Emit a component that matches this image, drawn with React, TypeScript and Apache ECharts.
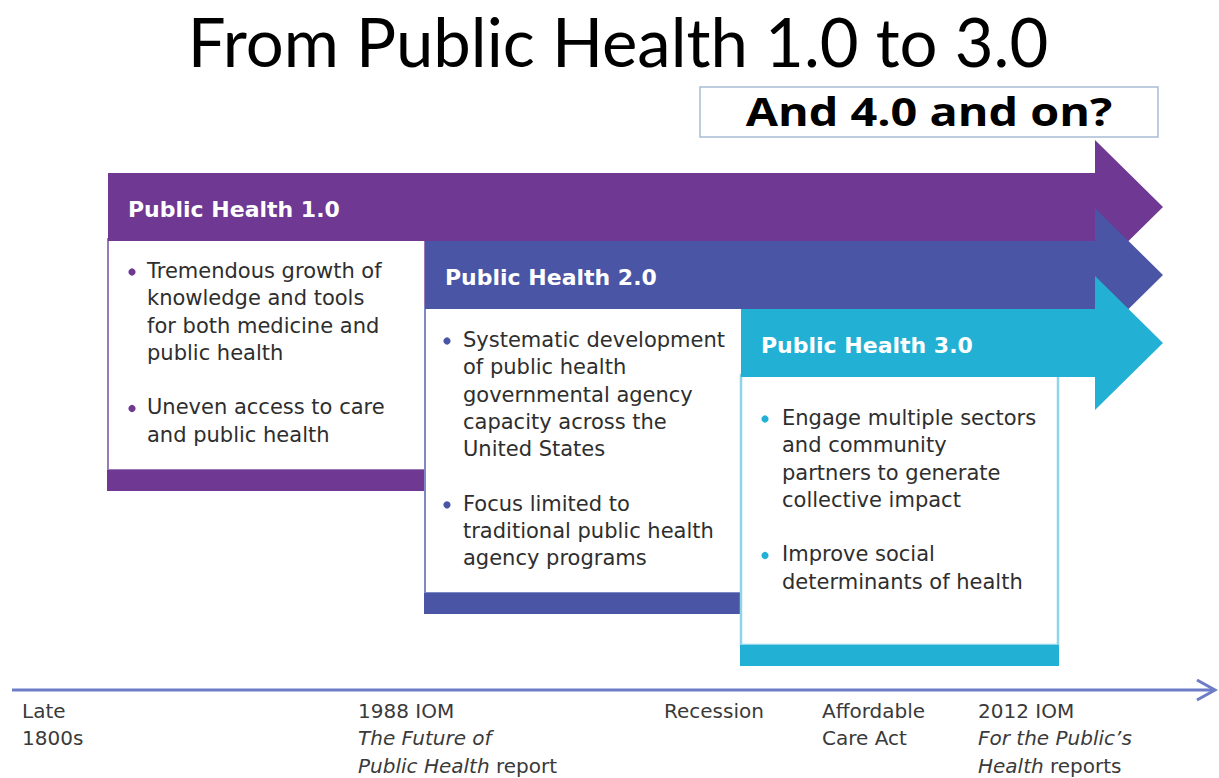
import React, { useEffect, useRef } from "react";
import * as echarts from "echarts";

// ---- data ----
const title = "From Public Health 1.0 to 3.0";
const subtitle = "And 4.0 and on?";
const phases = ["Public Health 1.0", "Public Health 2.0", "Public Health 3.0"];
const phaseColors = ["#6E3893", "#4A55A5", "#22B1D5"];
const phaseBorderColors = ["#9A7AB6", "#7F89C6", "#8ED4EA"];
const bullets1 = [
  ["Tremendous growth of", "knowledge and tools", "for both medicine and", "public health"],
  ["Uneven access to care", "and public health"],
];
const bullets2 = [
  ["Systematic development", "of public health", "governmental agency", "capacity across the", "United States"],
  ["Focus limited to", "traditional public health", "agency programs"],
];
const bullets3 = [
  ["Engage multiple sectors", "and community", "partners to generate", "collective impact"],
  ["Improve social", "determinants of health"],
];
const phaseBullets = [bullets1, bullets2, bullets3];
// timeline milestones: rich-text lines ({i|...} = italic)
const milestoneLabels = [
  ["Late", "1800s"],
  ["1988 IOM", "{i|The Future of}", "{i|Public Health} report"],
  ["Recession"],
  ["Affordable", "Care Act"],
  ["2012 IOM", "{i|For the Public\u2019s}", "{i|Health} reports"],
];

// ---- layout ----
const W = 1219;
const H = 778;
const phaseX = [108, 425, 741];
const boxW = 317;
const bodyTop0 = 173;
const bodyStep = 68;
const bodyH = 68;
const bodyRight = 1095;
const headTip = 1163;
const headHalf = 67;
const boxBottoms = [470, 593, 645];
const bandH = 21;
const firstLineOffset = [30, 31, 41];
const textIndent = [39, 38, 41];
const dotIndent = [24, 22, 24];
const lineH = 27.3;
const milestoneX = [22, 358, 664, 822, 978];
const timelineY = 690;

function buildGraphics() {
  const els: any[] = [];
  // title
  els.push({
    type: "text",
    x: 618,
    y: 41,
    style: {
      text: title,
      font: '400 67px "Lato", "Open Sans", sans-serif',
      fill: "#000",
      align: "center",
      verticalAlign: "middle",
    },
  });
  // subtitle box
  els.push({
    type: "rect",
    shape: { x: 700, y: 87, width: 458, height: 50 },
    style: { fill: "#fff", stroke: "#A9BCD6", lineWidth: 1.5 },
    z: 1,
  });
  els.push({
    type: "text",
    x: 929,
    y: 111,
    z: 2,
    scaleX: 1.2,
    style: {
      text: subtitle,
      font: '700 39px "Open Sans", "Lato", sans-serif',
      fill: "#000",
      align: "center",
      verticalAlign: "middle",
    },
  });

  phases.forEach((name, i) => {
    const x0 = phaseX[i];
    const top = bodyTop0 + i * bodyStep;
    const bottom = top + bodyH;
    const cy = top + bodyH / 2;
    const z = 10 + i * 10;
    // box (white with border) + bottom band
    els.push({
      type: "rect",
      z,
      shape: { x: x0, y: bottom - 2, width: boxW, height: boxBottoms[i] - bottom + 2 },
      style: { fill: "#fff", stroke: phaseBorderColors[i], lineWidth: i === 2 ? 2.5 : 2 },
    });
    els.push({
      type: "rect",
      z,
      shape: { x: x0 - 1, y: boxBottoms[i], width: boxW + 2, height: bandH },
      style: { fill: phaseColors[i] },
    });
    // arrow
    els.push({
      type: "polygon",
      z: z + 1,
      shape: {
        points: [
          [x0, top],
          [bodyRight, top],
          [bodyRight, cy - headHalf],
          [headTip, cy],
          [bodyRight, cy + headHalf],
          [bodyRight, bottom],
          [x0, bottom],
        ],
      },
      style: { fill: phaseColors[i] },
    });
    els.push({
      type: "text",
      z: z + 2,
      x: x0 + 20,
      y: cy + 2,
      style: {
        text: name,
        font: '700 22px "DejaVu Sans", Verdana, sans-serif',
        fill: "#fff",
        verticalAlign: "middle",
      },
    });
    // bullets
    let lineIdx = 0;
    phaseBullets[i].forEach((lines) => {
      const yc = bottom + firstLineOffset[i] + lineIdx * lineH;
      els.push({
        type: "circle",
        z: z + 2,
        shape: { cx: x0 + dotIndent[i], cy: yc + 1, r: 3.6 },
        style: { fill: phaseColors[i] },
      });
      els.push({
        type: "text",
        z: z + 2,
        x: x0 + textIndent[i],
        y: yc - lineH / 2,
        style: {
          text: lines.join("\n"),
          font: '400 21px "DejaVu Sans", Verdana, sans-serif',
          lineHeight: lineH,
          fill: "#2E2E2E",
          verticalAlign: "top",
        },
      });
      lineIdx += lines.length + 1;
    });
  });

  // timeline
  els.push({
    type: "line",
    z: 50,
    shape: { x1: 12, y1: timelineY, x2: 1212, y2: timelineY },
    style: { stroke: "#6C7CC6", lineWidth: 3 },
  });
  els.push({
    type: "polyline",
    z: 50,
    shape: { points: [[1197, timelineY - 10], [1215, timelineY], [1197, timelineY + 10]] },
    style: { stroke: "#6C7CC6", lineWidth: 3, fill: "none" },
  });
  milestoneLabels.forEach((lines, k) => {
    els.push({
      type: "text",
      z: 50,
      x: milestoneX[k],
      y: 697,
      style: {
        text: lines.join("\n"),
        font: '400 20px "DejaVu Sans", Verdana, sans-serif',
        lineHeight: 27.5,
        fill: "#3A3A3A",
        verticalAlign: "top",
        rich: {
          i: {
            fontStyle: "italic",
            fontSize: 20,
            fontFamily: "DejaVu Sans",
            fill: "#3A3A3A",
            lineHeight: 27.5,
          },
        },
      },
    });
  });
  return els;
}

export default function App() {
  const ref = useRef<HTMLDivElement>(null);
  useEffect(() => {
    document.body.style.margin = "0";
    const chart = echarts.init(ref.current!, null, { renderer: "svg" });
    chart.setOption({
      animation: false,
      backgroundColor: "#fff",
      graphic: { elements: buildGraphics() },
    });
    return () => chart.dispose();
  }, []);
  return <div ref={ref} style={{ width: W, height: H, position: "absolute", left: 0, top: 0 }} />;
}
